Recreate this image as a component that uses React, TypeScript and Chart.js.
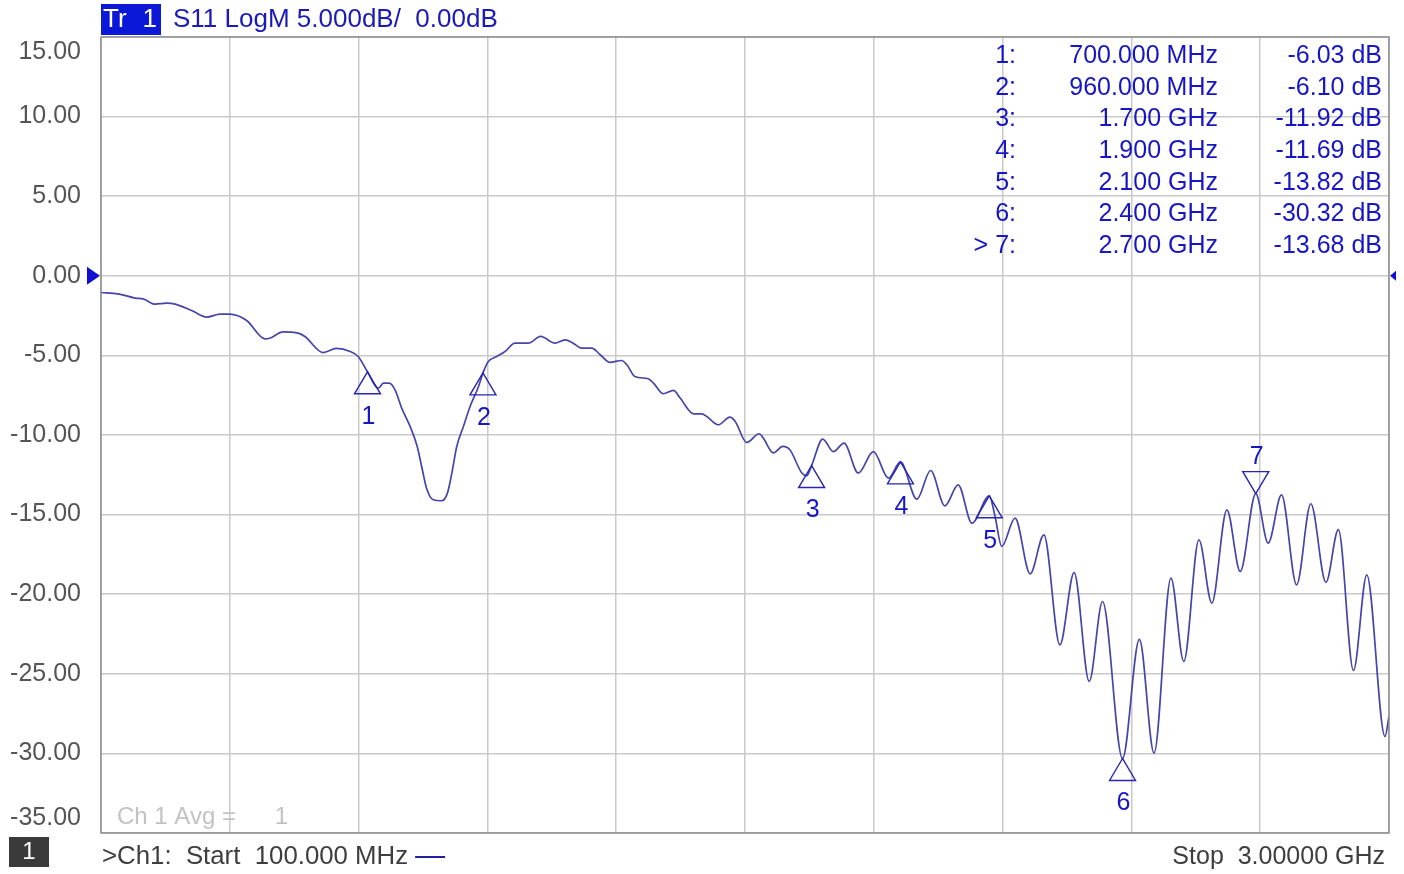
import React, { useEffect, useRef } from 'react';
import { Chart, registerables } from 'chart.js';

Chart.register(...registerables);

// ---------- axis setup ----------
const START_MHZ = 100;
const STOP_MHZ = 3000;
const X_DIVISIONS = 10;
const Y_MIN = -35;
const Y_MAX = 15;
const Y_STEP = 5;
const xGridValues = Array.from({ length: X_DIVISIONS + 1 }, (_, i) => START_MHZ + (i * (STOP_MHZ - START_MHZ)) / X_DIVISIONS);

// ---------- trace (S11, dB) ----------
const traceFreqMHz = [
  100, 138, 177, 195, 222, 248, 267, 304, 338, 368,
  390, 428, 469, 480, 510, 544, 559, 600, 630, 661,
  679, 700, 724, 736, 749, 762, 777, 796, 812, 822,
  833, 848, 867, 880, 890, 901, 916, 931, 950, 960,
  972, 991, 1010, 1032, 1062, 1090, 1122, 1145, 1163, 1182,
  1205, 1224, 1246, 1272, 1284, 1302, 1332, 1344, 1366, 1389,
  1404, 1434, 1453, 1464, 1490, 1516, 1528, 1554, 1582, 1591,
  1614, 1635, 1651, 1678, 1689, 1700, 1725, 1749, 1773, 1805,
  1839, 1873, 1900, 1937, 1968, 2000, 2030, 2061, 2100, 2113,
  2128, 2158, 2192, 2223, 2259, 2291, 2325, 2355, 2400, 2438,
  2471, 2509, 2538, 2572, 2601, 2635, 2665, 2700, 2728, 2758,
  2792, 2824, 2858, 2886, 2920, 2950, 2991, 3000,
];
const traceDb = [
  -1.05, -1.13, -1.40, -1.45, -1.78, -1.72, -1.78, -2.18, -2.60, -2.41,
  -2.41, -2.81, -3.96, -3.92, -3.52, -3.60, -3.81, -4.82, -4.56, -4.75,
  -5.07, -6.03, -7.06, -6.74, -6.74, -7.16, -8.31, -9.46, -10.72, -11.98,
  -13.34, -14.07, -14.13, -13.65, -12.39, -10.72, -9.46, -8.21, -6.95, -6.10,
  -5.38, -5.07, -4.75, -4.23, -4.23, -3.81, -4.23, -4.02, -4.23, -4.54,
  -4.54, -4.96, -5.44, -5.32, -5.59, -6.32, -6.47, -6.74, -7.41, -7.20,
  -7.68, -8.67, -8.67, -8.84, -9.36, -8.88, -9.15, -10.47, -9.92, -10.19,
  -11.12, -10.72, -10.93, -12.39, -12.56, -11.92, -10.26, -11.04, -10.51, -12.39,
  -11.04, -12.71, -11.69, -14.03, -12.23, -14.45, -13.13, -15.54, -13.82, -15.12,
  -17.00, -15.22, -18.72, -16.27, -23.18, -18.64, -25.48, -20.46, -30.32, -22.84,
  -29.98, -18.99, -24.23, -16.58, -20.56, -14.70, -18.57, -13.68, -16.79, -13.76,
  -19.41, -14.32, -19.26, -15.95, -24.79, -18.78, -28.94, -27.68,
];

// ---------- markers ----------
const markerIds = ['1', '2', '3', '4', '5', '6', '7'];
const markerFreqMHz = [700, 960, 1700, 1900, 2100, 2400, 2700];
const markerDb = [-6.03, -6.1, -11.92, -11.69, -13.82, -30.32, -13.68];
const markerFreqText = ['700.000 MHz', '960.000 MHz', '1.700 GHz', '1.900 GHz', '2.100 GHz', '2.400 GHz', '2.700 GHz'];
const markerDbText = ['-6.03 dB', '-6.10 dB', '-11.92 dB', '-11.69 dB', '-13.82 dB', '-30.32 dB', '-13.68 dB'];
const markerPointsDown = [false, false, false, false, false, false, true];
const activeMarker = '7';

// ---------- texts ----------
const traceTag = 'Tr';
const traceNum = '1';
const traceTitle = 'S11 LogM 5.000dB/  0.00dB';
const avgText = 'Ch 1 Avg =';
const avgValue = '1';
const channelBadge = '1';
const startText = '>Ch1:  Start  100.000 MHz';
const stopText = 'Stop  3.00000 GHz';

const FONT = '"Liberation Sans", Arial, Helvetica, sans-serif';
const BLUE_TEXT = '#1616c4';
const TRACE_COLOR = '#4545aa';

const overlay = {
  id: 'vnaOverlay',
  beforeDraw(chart: any) {
    const ctx = chart.ctx;
    ctx.save();
    ctx.fillStyle = '#ffffff';
    ctx.fillRect(0, 0, chart.width, chart.height);
    ctx.restore();
  },
  afterDraw(chart: any) {
    const ctx: CanvasRenderingContext2D = chart.ctx;
    const { left, right, top, bottom } = chart.chartArea;
    const xs = chart.scales.x;
    const ys = chart.scales.y;
    ctx.save();

    // plot frame
    ctx.strokeStyle = '#8c8c8c';
    ctx.lineWidth = 1.5;
    ctx.strokeRect(left, top, right - left, bottom - top);

    // reference level arrows
    const y0 = ys.getPixelForValue(0);
    ctx.fillStyle = '#1010d4';
    ctx.beginPath();
    ctx.moveTo(left - 14, y0 - 9);
    ctx.lineTo(left - 1, y0);
    ctx.lineTo(left - 14, y0 + 9);
    ctx.closePath();
    ctx.fill();
    ctx.beginPath();
    ctx.moveTo(right + 7, y0 - 5);
    ctx.lineTo(right + 1, y0);
    ctx.lineTo(right + 7, y0 + 5);
    ctx.closePath();
    ctx.fill();

    // title
    ctx.fillStyle = '#0c18d8';
    ctx.fillRect(left, 4, 60, 31);
    ctx.textBaseline = 'middle';
    ctx.font = `26px ${FONT}`;
    ctx.fillStyle = '#ffffff';
    ctx.textAlign = 'left';
    ctx.fillText(traceTag, left + 2, 20);
    ctx.textAlign = 'right';
    ctx.fillText(traceNum, left + 56, 20);
    ctx.fillStyle = '#1a1ab8';
    ctx.textAlign = 'left';
    ctx.fillText(traceTitle, left + 72, 20);

    // marker table
    ctx.font = `25px ${FONT}`;
    ctx.fillStyle = BLUE_TEXT;
    markerIds.forEach((id, i) => {
      const ry = 56 + i * 31.7;
      ctx.textAlign = 'right';
      ctx.fillText((id === activeMarker ? '> ' : '') + id + ':', 1016, ry);
      ctx.fillText(markerFreqText[i], 1218, ry);
      ctx.fillText(markerDbText[i], 1382, ry);
    });

    // marker symbols
    ctx.strokeStyle = '#2626b4';
    ctx.lineWidth = 1.4;
    ctx.font = `25px ${FONT}`;
    ctx.textAlign = 'center';
    markerIds.forEach((id, i) => {
      const px = xs.getPixelForValue(markerFreqMHz[i]);
      const py = ys.getPixelForValue(markerDb[i]);
      const dir = markerPointsDown[i] ? -1 : 1;
      ctx.beginPath();
      ctx.moveTo(px, py);
      ctx.lineTo(px - 13, py + dir * 22);
      ctx.lineTo(px + 13, py + dir * 22);
      ctx.closePath();
      ctx.stroke();
      ctx.fillStyle = BLUE_TEXT;
      ctx.fillText(id, px + 1, markerPointsDown[i] ? py - 36 : py + 45);
    });

    // averaging text
    ctx.font = `24px ${FONT}`;
    ctx.fillStyle = '#c2c2c2';
    ctx.textAlign = 'left';
    ctx.fillText(avgText, left + 16, bottom - 16);
    ctx.textAlign = 'right';
    ctx.fillText(avgValue, left + 187, bottom - 16);

    // bottom bar
    ctx.fillStyle = '#3a3a3a';
    ctx.fillRect(9, bottom + 4, 40, 30);
    ctx.fillStyle = '#ffffff';
    ctx.textAlign = 'center';
    ctx.font = `24px ${FONT}`;
    ctx.fillText(channelBadge, 29, bottom + 19);

    ctx.font = `25.8px ${FONT}`;
    ctx.fillStyle = '#3e3e3e';
    ctx.textAlign = 'left';
    ctx.fillText(startText, left + 1, bottom + 24);
    const w = ctx.measureText(startText).width;
    ctx.strokeStyle = '#20209c';
    ctx.lineWidth = 2;
    ctx.beginPath();
    ctx.moveTo(left + w + 8, bottom + 24);
    ctx.lineTo(left + w + 38, bottom + 24);
    ctx.stroke();
    ctx.font = `25px ${FONT}`;
    ctx.textAlign = 'right';
    ctx.fillText(stopText, right - 4, bottom + 24);

    ctx.restore();
  },
};

export default function App() {
  const canvasRef = useRef<HTMLCanvasElement | null>(null);

  useEffect(() => {
    document.body.style.margin = '0';
    const canvas = canvasRef.current;
    if (!canvas) return;
    const points = traceFreqMHz.map((f, i) => ({ x: f, y: traceDb[i] }));
    const chart = new Chart(canvas, {
      type: 'line',
      data: {
        datasets: [
          {
            label: 'S11',
            data: points,
            borderColor: TRACE_COLOR,
            borderWidth: 1.7,
            pointRadius: 0,
            fill: false,
            cubicInterpolationMode: 'monotone',
          },
        ],
      },
      options: {
        animation: false,
        responsive: false,
        events: [],
        layout: { padding: { top: 37, right: 15, left: 0, bottom: 0 } },
        plugins: {
          legend: { display: false },
          tooltip: { enabled: false },
          title: { display: false },
        },
        scales: {
          x: {
            type: 'linear',
            min: START_MHZ,
            max: STOP_MHZ,
            ticks: { display: false },
            grid: { color: '#c9c9c9', lineWidth: 1.5, drawTicks: false },
            border: { display: false },
            afterBuildTicks: (scale: any) => {
              scale.ticks = xGridValues.map((v) => ({ value: v }));
            },
            afterFit: (scale: any) => {
              scale.height = 41;
              scale.paddingLeft = 0;
              scale.paddingRight = 0;
              scale.paddingTop = 0;
              scale.paddingBottom = 0;
            },
          },
          y: {
            type: 'linear',
            min: Y_MIN,
            max: Y_MAX,
            ticks: {
              stepSize: Y_STEP,
              autoSkip: false,
              padding: 20,
              color: '#555555',
              font: { family: FONT, size: 25 },
              callback: (v: any) => {
                const n = Number(v);
                const s = n.toFixed(2);
                if (n === Y_MAX) return ['', s];
                if (n === Y_MIN) return [s, ''];
                return s;
              },
            },
            grid: { color: '#c9c9c9', lineWidth: 1.5, drawTicks: false },
            border: { display: false },
            afterFit: (scale: any) => {
              scale.width = 101;
              scale.paddingLeft = 0;
              scale.paddingRight = 0;
              scale.paddingTop = 0;
              scale.paddingBottom = 0;
            },
          },
        },
      },
      plugins: [overlay],
    } as any);
    return () => chart.destroy();
  }, []);

  return (
    <div style={{ position: 'fixed', left: 0, top: 0, width: 1404, height: 874, background: '#ffffff' }}>
      <canvas ref={canvasRef} width={1404} height={874} style={{ display: 'block' }} />
    </div>
  );
}
